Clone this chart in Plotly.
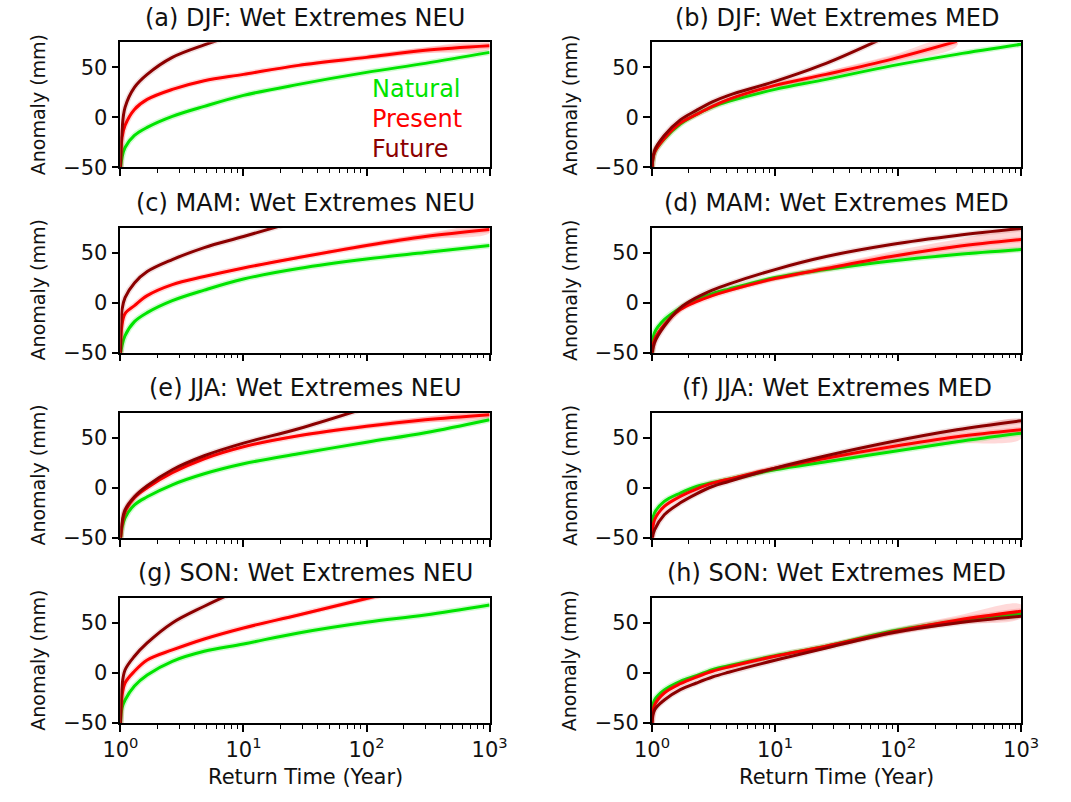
import plotly.graph_objects as go

# ---------------- data ----------------
RT_NEU = [1.0, 1.03, 1.09, 1.3, 1.65, 2.64, 4.8, 10, 28, 100, 300, 1000]
RT_MED = [1.0, 1.05, 1.26, 1.7, 2.3, 3.1, 4.2, 10, 26, 88, 300, 1000]

TITLES = ["(a) DJF: Wet Extremes NEU", "(b) DJF: Wet Extremes MED",
          "(c) MAM: Wet Extremes NEU", "(d) MAM: Wet Extremes MED",
          "(e) JJA: Wet Extremes NEU", "(f) JJA: Wet Extremes MED",
          "(g) SON: Wet Extremes NEU", "(h) SON: Wet Extremes MED"]
SERIES_NAMES = ["Natural", "Present", "Future"]

a_nat = [-52, -40, -30, -18, -10, 1, 11, 22, 33, 45, 54, 65]
a_pre = [-52, -20, -8, 8, 18, 28, 36.7, 43, 52, 60, 67, 71.5]
a_fut = [-52, -13, 10, 30, 43, 60, 72.5, 85, None, None, None, None]

b_nat = [-52, -35, -21.6, -6.6, 3, 10.5, 16, 28, 38, 51.5, 63, 73]
b_pre = [-52, -35, -21, -5.6, 3, 11, 18, 32, 43, 58, 76, None]
b_fut = [-52, -33, -18, -2.5, 7, 15.5, 22, 36, 54, 83, None, None]

c_nat = [-52, -43, -33, -19, -10, 2, 12.5, 23.6, 34, 43.5, 50, 57]
c_pre = [-52, -22, -11, -3, 7, 18, 26, 34.6, 45, 57, 66, 73]
c_fut = [-52, -7, 5, 19.6, 31, 43, 55, 66, 82, None, None, None]

d_nat = [-52, -30, -17, -5.3, 3, 9, 13.5, 25, 33, 41.5, 48, 53]
d_pre = [-52, -37, -22, -7, 1, 7, 12, 24, 34, 46, 56, 63]
d_fut = [-52, -40, -23.6, -5.3, 5, 12.5, 18.5, 33, 46, 58, 67, 74]

e_nat = [-52, -40, -30, -17, -9, 3, 14, 24, 34, 45.5, 55, 68]
e_pre = [-52, -37, -24, -10, 0, 15, 29, 41, 52, 61.5, 68, 73]
e_fut = [-52, -35, -22, -9, 2, 18, 32, 44.6, 59, 80, None, None]

f_nat = [-38, -25, -13.6, -5.3, 1.3, 5.3, 8.6, 18, 26, 36, 46, 54.6]
f_pre = [-52, -32, -18.6, -8.6, -1.3, 4.6, 8.6, 19.6, 29.6, 41, 51, 58]
f_fut = [-52, -42, -27, -15, -6, 1.3, 6.3, 19.6, 32, 46, 58, 67]

g_nat = [-52, -35, -27, -13, -2, 11.7, 21.7, 29, 40, 50.7, 58, 68]
g_pre = [-52, -23, -10, 1.7, 13, 23, 34, 45, 58, 74.5, 88, None]
g_fut = [-52, -13, 3, 16.7, 30, 50, 66.7, 85, None, None, None, None]

h_nat = [-40, -27, -17, -8.3, -2.7, 3.3, 7.3, 17.3, 26.7, 41.7, 51.7, 59.3]
h_pre = [-52, -32, -20, -10.7, -4, 1.7, 6, 16.7, 26.7, 40.7, 52.7, 61.7]
h_fut = [-52, -37, -27, -16.7, -10, -4, 0.7, 12.7, 25, 40, 50, 56.7]

# ensemble half-spread of the Present members (mm)
a_spr = [0, 0, 1, 1, 1, 1, 1, 1, 1.5, 2, 3, 3.5]
b_spr = [0, 0, 1, 1, 1, 1, 1.5, 2, 3, 4, 5, 6]
c_spr = [0, 0, 1, 1, 1, 1, 1, 1, 1.5, 2, 3, 3.5]
d_spr = [0, 0, 1, 1, 1, 1, 1.5, 2, 3, 5, 7, 9]
e_spr = [0, 0, 1, 1, 1, 1, 1, 1, 1.5, 2, 3, 3]
f_spr = [0, 0, 1, 1, 1, 1, 1, 1.5, 3, 5, 7, 9]
g_spr = [0, 0, 1, 1, 1, 1, 1, 1, 1.5, 2, 3, 3]
h_spr = [0, 0, 1, 1, 1, 1, 1, 1.5, 2, 3, 4.5, 6.5]

PANELS = [
    (RT_NEU, a_nat, a_pre, a_fut, a_spr), (RT_MED, b_nat, b_pre, b_fut, b_spr),
    (RT_NEU, c_nat, c_pre, c_fut, c_spr), (RT_MED, d_nat, d_pre, d_fut, d_spr),
    (RT_NEU, e_nat, e_pre, e_fut, e_spr), (RT_MED, f_nat, f_pre, f_fut, f_spr),
    (RT_NEU, g_nat, g_pre, g_fut, g_spr), (RT_MED, h_nat, h_pre, h_fut, h_spr),
]

Y_TICKS = [-50, 0, 50]
X_TICKS = [1, 10, 100, 1000]
X_TICKTEXT = ["10<sup>0</sup>", "10<sup>1</sup>", "10<sup>2</sup>", "10<sup>3</sup>"]

# ---------------- styling / layout ----------------
W, H = 1071, 802
COLORS = ["#00e400", "#ff0000", "#8b0000"]
HALO = ["rgba(0,228,0,0.18)", "rgba(255,0,0,0.15)", "rgba(139,0,0,0.12)"]
BAND = "rgba(255,130,130,0.30)"
FONT = "DejaVu Sans, Arial, sans-serif"

COL_X = [(106, 488), (656, 1038)]
ROW_TOP = [43, 231, 419, 607]
PH = 127

fig = go.Figure()
minor_vals = [m * 10 ** k for k in range(3) for m in range(2, 10)]

for i, (rt, nat, pre, fut, spr) in enumerate(PANELS):
    r, c = divmod(i, 2)
    n = i + 1
    xa = "x" if n == 1 else f"x{n}"
    ya = "y" if n == 1 else f"y{n}"
    # Present ensemble band
    xs = [x for x, v in zip(rt, pre) if v is not None]
    hi = [v + s for v, s in zip(pre, spr) if v is not None]
    lo = [v - s for v, s in zip(pre, spr) if v is not None]
    fig.add_trace(go.Scatter(x=xs + xs[::-1], y=hi + lo[::-1], fill="toself",
                             fillcolor=BAND, line=dict(width=0, shape="spline", smoothing=1.0),
                             mode="lines", hoverinfo="skip", showlegend=False,
                             xaxis=xa, yaxis=ya))
    for k, vals in enumerate([nat, pre, fut]):
        fig.add_trace(go.Scatter(x=rt, y=vals, mode="lines", showlegend=False,
                                 line=dict(color=HALO[k], width=6, shape="spline", smoothing=1.0),
                                 hoverinfo="skip", xaxis=xa, yaxis=ya))
        fig.add_trace(go.Scatter(x=rt, y=vals, mode="lines", name=SERIES_NAMES[k],
                                 showlegend=False,
                                 line=dict(color=COLORS[k], width=3, shape="spline", smoothing=1.0),
                                 xaxis=xa, yaxis=ya))

    x0, x1 = COL_X[c]
    top = ROW_TOP[r]
    dom_x = [x0 / W, x1 / W]
    dom_y = [1 - (top + PH) / H, 1 - top / H]
    axis_common = dict(showline=True, linecolor="black", linewidth=1.5, mirror=True,
                       ticks="outside", tickcolor="black", showgrid=False, zeroline=False,
                       tickfont=dict(family=FONT, size=21, color="#111"))
    xkey = "xaxis" if n == 1 else f"xaxis{n}"
    ykey = "yaxis" if n == 1 else f"yaxis{n}"
    fig.update_layout(**{
        xkey: dict(axis_common, type="log", range=[0, 3], domain=dom_x, anchor=ya,
                   tickvals=X_TICKS, ticktext=X_TICKTEXT, ticklen=7, tickwidth=1.5,
                   showticklabels=(r == 3),
                   minor=dict(tickvals=minor_vals, ticks="outside", ticklen=4,
                              tickwidth=1, tickcolor="black", showgrid=False)),
        ykey: dict(axis_common, range=[-50, 75], domain=dom_y, anchor=xa,
                   tickvals=Y_TICKS, ticklen=7, tickwidth=1.5),
    })
    # title
    fig.add_annotation(text=TITLES[i], xref="paper", yref="paper",
                       x=(x0 + x1) / 2 / W, y=1 - (top - 25) / H,
                       showarrow=False, xanchor="center", yanchor="middle",
                       font=dict(family=FONT, size=24, color="#111"))
    # y label
    fig.add_annotation(text="Anomaly (mm)", xref="paper", yref="paper",
                       x=(x0 - 85) / W, y=1 - (top + PH / 2) / H, textangle=-90,
                       showarrow=False, xanchor="center", yanchor="middle",
                       font=dict(family=FONT, size=19, color="#111"))
    if r == 3:
        fig.add_annotation(text="Return Time (Year)", xref="paper", yref="paper",
                           x=(x0 + x1) / 2 / W, y=1 - 789 / H,
                           showarrow=False, xanchor="center", yanchor="middle",
                           font=dict(family=FONT, size=21, color="#111"))

# in-panel legend of panel (a)
for k, (name, yv) in enumerate(zip(SERIES_NAMES, [28, -1.7, -31.7])):
    fig.add_annotation(text=name, xref="x", yref="y", x=2.03, y=yv,
                       showarrow=False, xanchor="left", yanchor="middle",
                       font=dict(family=FONT, size=24, color=COLORS[k]))

fig.update_layout(width=W, height=H, margin=dict(l=0, r=0, t=0, b=0),
                  paper_bgcolor="white", plot_bgcolor="white",
                  font=dict(family=FONT))
fig.write_html("out.html")
